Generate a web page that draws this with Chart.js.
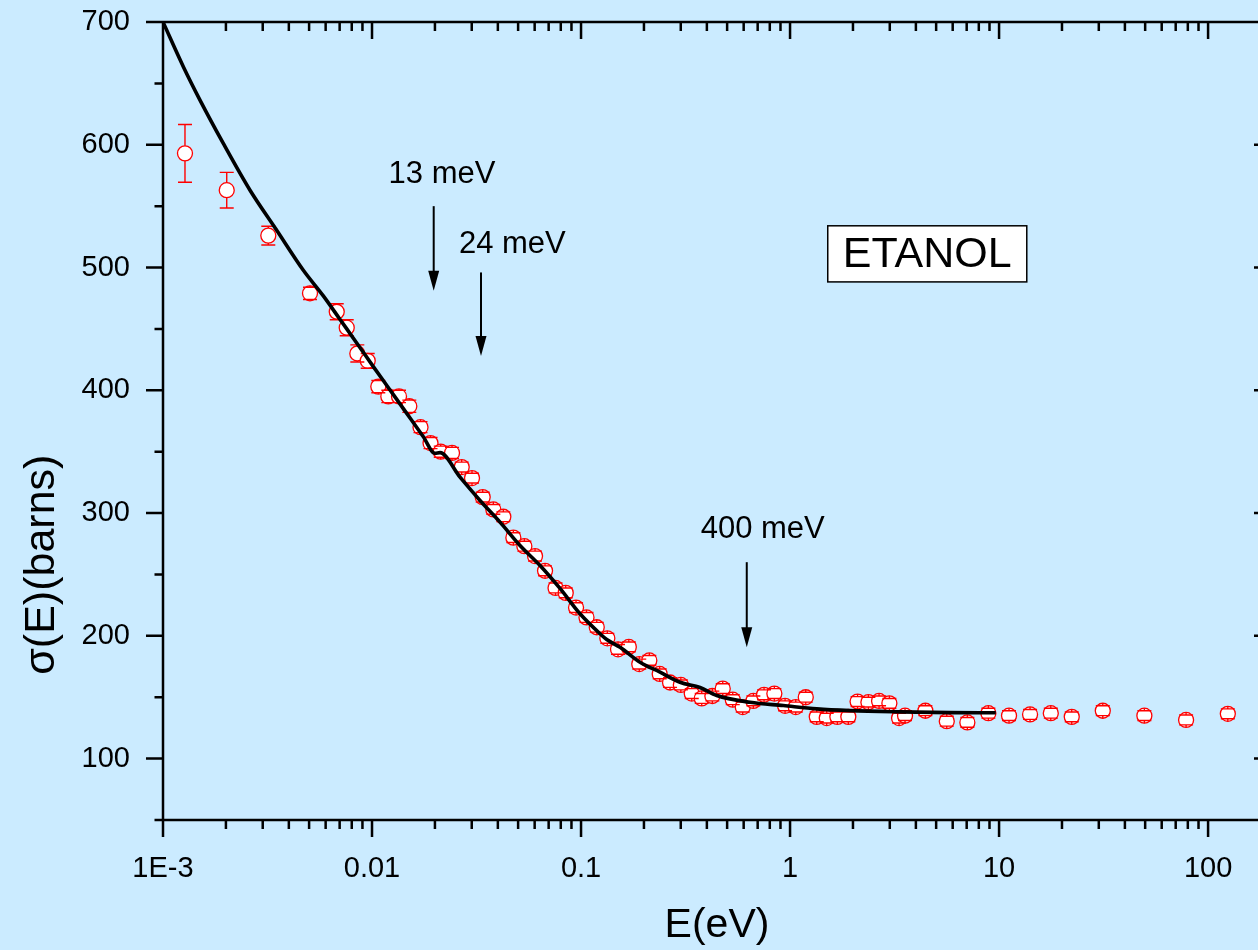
<!DOCTYPE html>
<html>
<head>
<meta charset="utf-8">
<title>ETANOL</title>
<script src="https://cdn.jsdelivr.net/npm/chart.js@4.4.1/dist/chart.umd.min.js"></script>
<style>
  html, body { margin: 0; padding: 0; background: #cbebff; overflow: hidden; }
  #wrap { width: 1271px; height: 950px; }
</style>
</head>
<body>
<div id="wrap"><canvas id="myChart" width="1271" height="950"></canvas></div>
<script>
// measured points: energy (eV), cross section (barns), error (barns)
const energy = [0.001274, 0.002018, 0.003190, 0.005050, 0.006780, 0.007568, 0.008505, 0.009537, 0.010717, 0.011967,
  0.013462, 0.01508, 0.01706, 0.01905, 0.02132, 0.02414, 0.02686, 0.03009, 0.03385, 0.03805,
  0.04249, 0.04745, 0.05356, 0.06025, 0.06727, 0.07551, 0.08448, 0.09465, 0.1062, 0.1189,
  0.1336, 0.1503, 0.1693, 0.1899, 0.2122, 0.2379, 0.2666, 0.3003, 0.3386, 0.3780,
  0.4249, 0.4764, 0.5319, 0.5938, 0.6675, 0.7509, 0.8412, 0.9465, 1.065, 1.189,
  1.342, 1.498, 1.684, 1.900, 2.104, 2.370, 2.666, 2.987, 3.323, 3.549,
  4.441, 5.621, 7.052, 8.889, 11.16, 14.07, 17.68, 22.27, 31.35, 49.57, 78.48, 124.3];
const sigma = [593, 563, 526, 479, 464, 451, 430, 424, 403, 395,
  395, 387, 370, 357, 350, 349, 337.5, 328.5, 313, 303,
  297, 280, 273, 265, 253, 239, 235, 223, 215, 207,
  198, 189, 191, 177, 180, 169, 162, 160, 153, 149,
  151, 157, 148, 142, 147, 152, 153, 143, 142, 150,
  134, 133, 134, 134, 146.5, 146, 147, 145, 133, 135,
  139, 130.5, 129.5, 137, 135, 136, 137, 134, 139, 135, 131.5, 136.5];
const sigmaErr = [23.5, 14.5, 7.6, 5, 6.5, 6.5, 7, 6, 5, 5,
  5, 5, 4.5, 4.5, 4.5, 4.5, 4, 4, 4, 4,
  4, 4, 4, 4, 4, 4, 4, 4, 4, 4,
  4, 4, 4, 4, 4, 4, 4, 4, 4, 4,
  4, 4, 4, 4, 4, 4, 4, 4, 4, 4,
  4, 4, 4, 4, 4, 4, 4, 4, 4, 4,
  4, 4, 4, 4, 4, 4, 4, 4, 4, 4, 4, 4];

// fitted curve
const fitE = [0.001, 0.001251, 0.001503, 0.001943, 0.002608, 0.003499, 0.004692, 0.005848, 0.007031, 0.008448,
  0.010144, 0.01219, 0.01466, 0.01760, 0.02001, 0.02115, 0.02636, 0.03286, 0.04097, 0.05106,
  0.06366, 0.07932, 0.09890, 0.1233, 0.1327, 0.1537, 0.1916, 0.2388, 0.2977, 0.3710,
  0.4459, 0.6436, 0.9288, 1.342, 1.937, 3.360, 5.831, 9.643];
const fitSigma = [700, 663.6, 636.4, 601.1, 563.0, 530.4, 497.8, 476.9, 457.7, 438.6,
  419.3, 400.3, 381.2, 362.2, 348.6, 349.2, 329.3, 310.3, 292.6, 273.6,
  257.3, 238.6, 218.0, 201.7, 197.0, 190.7, 178.5, 170.4, 162.2, 157.9,
  151.4, 145.9, 143.2, 140.5, 139.1, 138.1, 137.5, 137.3];

// axes
const xMajor = [0.001, 0.01, 0.1, 1, 10, 100];
const xLabels = ['1E-3', '0.01', '0.1', '1', '10', '100'];
const xMinor = [];
[0.001, 0.01, 0.1, 1, 10, 100].forEach(d => {
  for (let k = 2; k <= 9; k++) xMinor.push(d * k);
});
const yMajor = [100, 200, 300, 400, 500, 600, 700];
const yMinor = [50, 150, 250, 350, 450, 550, 650];
const yTitle = 'σ(E)(barns)';
const yTitleAt = 258;   // barns, centre of the rotated title

// annotations
const arrowE = [0.01973, 0.03322, 0.6207];
const arrowFrom = [550, 496, 260];
const arrowTo = [481, 428, 190.7];
const noteText = ['13 meV', '24 meV', '400 meV'];
const noteE = [0.02162, 0.04691, 0.7403];
const noteSigma = [569, 512, 280];
const boxText = 'ETANOL';
const boxE = [1.515, 13.57];
const boxSigma = [534, 488.3];

const FONT = "'Liberation Sans', Arial, Helvetica, sans-serif";
const bgColor = '#cbebff';

const framePlugin = {
  id: 'frame',
  beforeDraw(chart) {
    const ctx = chart.ctx;
    ctx.save();
    ctx.fillStyle = bgColor;
    ctx.fillRect(0, 0, chart.width, chart.height);
    ctx.restore();
  },
  afterDatasetDraw(chart, args) {
    if (args.index !== 1) return;
    // error bars, drawn from the marker edge to the cap
    const ctx = chart.ctx;
    const ys = chart.scales.y;
    const r = 7.5, cap = 7;
    ctx.save();
    ctx.strokeStyle = '#ff0000';
    ctx.lineWidth = 1.4;
    ctx.beginPath();
    args.meta.data.forEach((pt, i) => {
      const up = ys.getPixelForValue(sigma[i] + sigmaErr[i]);
      const dn = ys.getPixelForValue(sigma[i] - sigmaErr[i]);
      ctx.moveTo(pt.x, pt.y - r); ctx.lineTo(pt.x, up);
      ctx.moveTo(pt.x, pt.y + r); ctx.lineTo(pt.x, dn);
      ctx.moveTo(pt.x - cap, up); ctx.lineTo(pt.x + cap, up);
      ctx.moveTo(pt.x - cap, dn); ctx.lineTo(pt.x + cap, dn);
    });
    ctx.stroke();
    ctx.restore();
  },
  afterDraw(chart) {
    const ctx = chart.ctx;
    const xs = chart.scales.x, ys = chart.scales.y;
    const { left, right, top, bottom } = chart.chartArea;
    ctx.save();
    ctx.strokeStyle = '#000';
    ctx.lineWidth = 2.5;
    ctx.beginPath();
    ctx.rect(left, top, right - left, bottom - top);
    const tick = (vals, len) => {
      vals.forEach(v => {
        const px = xs.getPixelForValue(v);
        ctx.moveTo(px, bottom); ctx.lineTo(px, bottom + len);
        ctx.moveTo(px, top); ctx.lineTo(px, top + len);
      });
    };
    tick(xMajor, 17);
    tick(xMinor, 9);
    const ytick = (vals, len) => {
      vals.forEach(v => {
        const py = ys.getPixelForValue(v);
        ctx.moveTo(left - len, py); ctx.lineTo(left, py);
        ctx.moveTo(right - len, py); ctx.lineTo(right, py);
      });
    };
    ytick(yMajor, 17);
    ytick(yMinor, 8.5);
    ctx.stroke();

    // y axis title
    ctx.save();
    ctx.translate(42, ys.getPixelForValue(yTitleAt));
    ctx.rotate(-Math.PI / 2);
    ctx.fillStyle = '#000';
    ctx.font = '43px ' + FONT;
    ctx.textAlign = 'center';
    ctx.textBaseline = 'middle';
    ctx.fillText(yTitle, 0, 0);
    ctx.restore();

    // arrows
    ctx.lineWidth = 2;
    ctx.fillStyle = '#000';
    arrowE.forEach((e, i) => {
      const px = xs.getPixelForValue(e);
      const y0 = ys.getPixelForValue(arrowFrom[i]);
      const y1 = ys.getPixelForValue(arrowTo[i]);
      ctx.beginPath();
      ctx.moveTo(px, y0); ctx.lineTo(px, y1 - 10);
      ctx.stroke();
      ctx.beginPath();
      ctx.moveTo(px, y1);
      ctx.lineTo(px - 5.5, y1 - 20);
      ctx.lineTo(px + 5.5, y1 - 20);
      ctx.closePath();
      ctx.fill();
    });

    ctx.font = '31px ' + FONT;
    ctx.textAlign = 'center';
    ctx.textBaseline = 'alphabetic';
    noteText.forEach((t, i) => {
      ctx.fillText(t, xs.getPixelForValue(noteE[i]), ys.getPixelForValue(noteSigma[i]));
    });

    // label box
    const bx0 = xs.getPixelForValue(boxE[0]), bx1 = xs.getPixelForValue(boxE[1]);
    const by0 = ys.getPixelForValue(boxSigma[0]), by1 = ys.getPixelForValue(boxSigma[1]);
    ctx.fillStyle = '#fff';
    ctx.fillRect(bx0, by0, bx1 - bx0, by1 - by0);
    ctx.lineWidth = 1.5;
    ctx.strokeRect(bx0, by0, bx1 - bx0, by1 - by0);
    ctx.fillStyle = '#000';
    ctx.font = '43px ' + FONT;
    ctx.textBaseline = 'middle';
    ctx.fillText(boxText, (bx0 + bx1) / 2, (by0 + by1) / 2 + 1);
    ctx.restore();
  }
};

const ctx = document.getElementById('myChart').getContext('2d');
const chart = new Chart(ctx, {
  type: 'scatter',
  data: {
    datasets: [{
      label: 'fit',
      data: fitE.map((e, i) => ({ x: e, y: fitSigma[i] })),
      showLine: true,
      borderColor: '#000',
      borderWidth: 3.6,
      pointRadius: 0,
      cubicInterpolationMode: 'monotone',
      fill: false
    }, {
      label: 'data',
      data: energy.map((e, i) => ({ x: e, y: sigma[i] })),
      showLine: false,
      pointStyle: 'circle',
      pointRadius: 7.5,
      pointHoverRadius: 7.5,
      pointBorderWidth: 1.3,
      borderColor: '#ff0000',
      backgroundColor: '#ffffff'
    }]
  },
  options: {
    responsive: false,
    animation: false,
    events: [],
    devicePixelRatio: 1,
    layout: { autoPadding: false, padding: { top: 22, left: 0, right: 0, bottom: 0 } },
    plugins: { legend: { display: false }, tooltip: { enabled: false } },
    scales: {
      x: {
        type: 'logarithmic',
        min: 0.001,
        max: 200,
        afterBuildTicks: (scale) => { scale.ticks = xMajor.map(v => ({ value: v })); },
        afterFit: (scale) => {
          scale.height = 130;
          scale.paddingLeft = 0;
          scale.paddingRight = 0;
        },
        grid: { display: false },
        border: { display: false },
        ticks: {
          autoSkip: false,
          maxRotation: 0,
          padding: 24,
          color: '#000',
          font: { family: FONT, size: 29 },
          callback: (v, i) => xLabels[i]
        },
        title: {
          display: true,
          text: 'E(eV)',
          color: '#000',
          font: { family: FONT, size: 41 },
          padding: { top: 0, bottom: 0 }
        }
      },
      y: {
        type: 'linear',
        min: 50,
        max: 700,
        afterBuildTicks: (scale) => { scale.ticks = yMajor.map(v => ({ value: v })); },
        afterFit: (scale) => {
          scale.width = 163;
          scale.paddingTop = 0;
          scale.paddingBottom = 0;
        },
        grid: { display: false },
        border: { display: false },
        ticks: {
          padding: 25,
          color: '#000',
          font: { family: FONT, size: 29 },
          callback: (v) => String(v)
        }
      }
    }
  },
  plugins: [framePlugin]
});
</script>
</body>
</html>
